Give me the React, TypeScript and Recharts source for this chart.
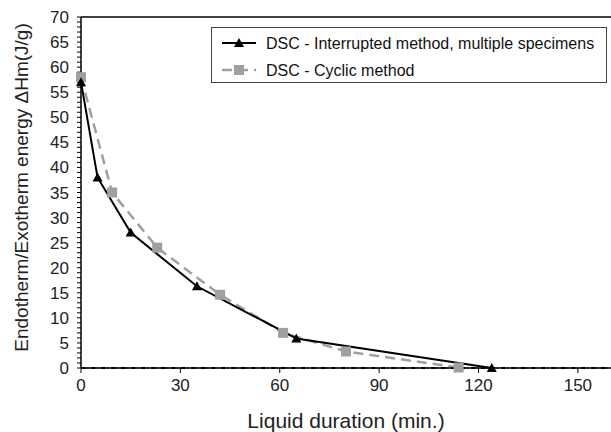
import { LineChart, Line, XAxis, YAxis, ReferenceLine } from 'recharts'

const interruptedX = [0, 5, 15, 35, 65, 124]
const interruptedY = [57, 38, 27, 16.3, 5.9, 0]
const cyclicX = [0, 9.4, 23, 42, 61, 80, 114]
const cyclicY = [58, 35, 24, 14.6, 7, 3.3, 0.1]
const xTicks = [0, 30, 60, 90, 120, 150]
const yTicks = Array.from({ length: 71 }, (_, i) => i)

const interrupted = interruptedX.map((x, i) => ({ x, y: interruptedY[i] }))
const cyclic = cyclicX.map((x, i) => ({ x, y: cyclicY[i] }))

const FONT = 'Liberation Sans, Arial, sans-serif'

const Triangle = (p: any) => {
  const { cx, cy } = p
  if (cx == null || cy == null) return null
  return <path d={`M${cx},${cy - 5} L${cx + 5},${cy + 4} L${cx - 5},${cy + 4} Z`} fill="#000" />
}

const Square = (p: any) => {
  const { cx, cy } = p
  if (cx == null || cy == null) return null
  return <rect x={cx - 5} y={cy - 5} width={10} height={10} fill="#a0a0a0" />
}

// minor ticks every unit, labels only every 5
const YTick = (p: any) => {
  const { x, y, payload } = p
  if (payload.value % 5 !== 0) return null
  return (
    <text x={x} y={y} dy={6} textAnchor="end" fontSize={17} fill="#222" fontFamily={FONT}>
      {payload.value}
    </text>
  )
}

// legend drawn as an overlay so it doesn't eat into the plot area
const LegendBox = () => (
  <div style={{
    position: 'absolute', left: 211, top: 27,
    width: 396, height: 56, border: '1px solid #444', background: '#fff',
    boxSizing: 'border-box',
  }}>
    <svg width={394} height={54} style={{ display: 'block' }}>
      <line x1={10} y1={15} x2={44} y2={15} stroke="#000" strokeWidth={2} />
      <Triangle cx={27} cy={15} />
      <text x={54} y={20.5} fontSize={16} fontFamily={FONT} fill="#111">DSC - Interrupted method, multiple specimens</text>
      <line x1={10} y1={42} x2={44} y2={42} stroke="#a0a0a0" strokeWidth={2.5} strokeDasharray="10 6" />
      <Square cx={27} cy={42} />
      <text x={54} y={47.5} fontSize={16} fontFamily={FONT} fill="#111">DSC - Cyclic method</text>
    </svg>
  </div>
)

export default function App() {
  return (
    <div style={{ position: 'absolute', left: 0, top: 0, width: 611, height: 432, background: '#fff' }}>
      <LineChart width={611} height={432} margin={{ top: 17, right: 0, bottom: 0, left: 0 }}>
        <XAxis
          type="number"
          dataKey="x"
          domain={[0, 160]}
          ticks={xTicks}
          interval={0}
          allowDuplicatedCategory={false}
          axisLine={{ stroke: '#000', strokeWidth: 1.5 }}
          tickLine={{ stroke: '#000' }}
          tickSize={5}
          tickMargin={6}
          tick={{ fontSize: 17, fill: '#222', fontFamily: FONT }}
          height={64}
          label={{
            value: 'Liquid duration (min.)', position: 'insideBottom', offset: 4,
            style: { fontSize: 21, fill: '#222', fontFamily: FONT },
          }}
        />
        <YAxis
          type="number"
          dataKey="y"
          domain={[0, 70]}
          ticks={yTicks}
          interval={0}
          width={81}
          axisLine={{ stroke: '#000', strokeWidth: 1.5 }}
          tickLine={{ stroke: '#000' }}
          tickSize={4}
          tickMargin={8}
          tick={<YTick />}
          label={{
            content: (lp: any) => {
              const vb = lp.viewBox
              const cx = vb.x + 21
              const cy = vb.y + vb.height / 2 - 5
              return (
                <text x={cx} y={cy} transform={`rotate(-90 ${cx} ${cy})`} textAnchor="middle"
                  dominantBaseline="central" fontSize={19} fill="#222" fontFamily={FONT}>
                  Endotherm/Exotherm energy ΔHm(J/g)
                </text>
              )
            },
          }}
        />
        <ReferenceLine y={70} stroke="#000" strokeWidth={1.5} />
        <ReferenceLine y={0} stroke="#000" strokeWidth={2} strokeDasharray="6 4" />
        <ReferenceLine y={0} stroke="#a0a0a0" strokeWidth={2} strokeDasharray="4 6" strokeDashoffset={6} />
        <Line
          data={cyclic}
          dataKey="y"
          name="DSC - Cyclic method"
          stroke="#a0a0a0"
          strokeWidth={2.5}
          strokeDasharray="10 6"
          dot={<Square />}
          isAnimationActive={false}
        />
        <Line
          data={interrupted}
          dataKey="y"
          name="DSC - Interrupted method, multiple specimens"
          stroke="#000"
          strokeWidth={2}
          dot={<Triangle />}
          isAnimationActive={false}
        />
      </LineChart>
      <LegendBox />
    </div>
  )
}
